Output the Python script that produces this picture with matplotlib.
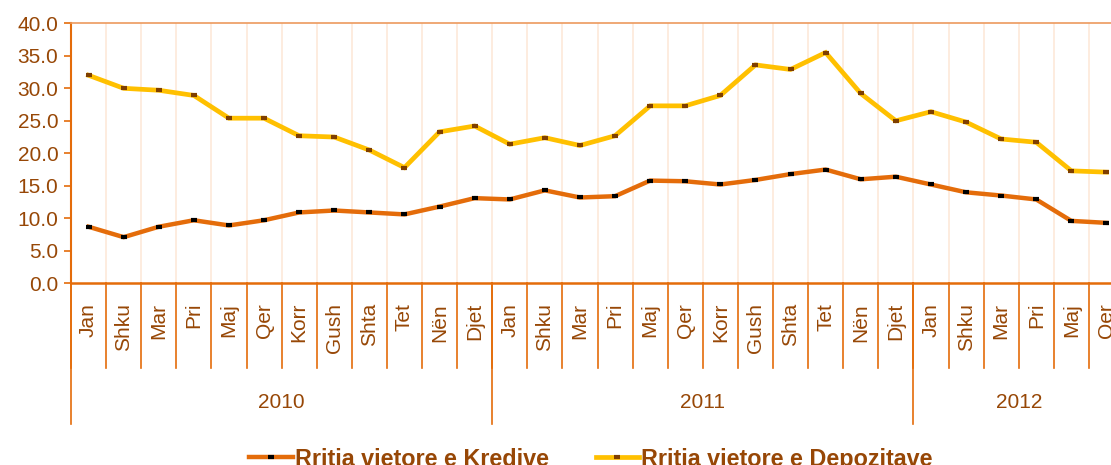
import numpy as np
import matplotlib
matplotlib.use("Agg")
import matplotlib.pyplot as plt
from matplotlib.transforms import blended_transform_factory
from matplotlib.lines import Line2D

plt.rcParams["font.family"] = ["Liberation Sans", "DejaVu Sans"]

# Data
months = ["Jan", "Shku", "Mar", "Pri", "Maj", "Qer", "Korr", "Gush", "Shta", "Tet", "Nën", "Djet"] * 2 + \
         ["Jan", "Shku", "Mar", "Pri", "Maj", "Qer"]
years = ["2010", "2011", "2012"]
year_counts = [12, 12, 6]

kredive = [8.7, 7.1, 8.7, 9.7, 8.9, 9.7, 10.9, 11.2, 10.9, 10.6, 11.8, 13.1,
           12.9, 14.3, 13.2, 13.4, 15.8, 15.7, 15.2, 15.9, 16.8, 17.5, 16.0, 16.4,
           15.2, 14.0, 13.5, 12.9, 9.6, 9.3]
depozitave = [32.0, 30.0, 29.7, 28.9, 25.4, 25.4, 22.7, 22.5, 20.5, 17.8, 23.3, 24.2,
              21.4, 22.4, 21.2, 22.7, 27.3, 27.3, 28.9, 33.6, 32.9, 35.5, 29.2, 25.0,
              26.4, 24.8, 22.2, 21.7, 17.3, 17.1]

ORANGE = "#E46C0A"
YELLOW = "#FFC000"
BROWN = "#974706"
GRID = "#FDE9D9"

W, H = 1111, 465
fig = plt.figure(figsize=(W / 100, H / 100), dpi=100)

def fy(px):
    # pixel row (from top) -> figure fraction
    return 1 - px / H

left, right, top, bottom = 71, 1124, 23.3, 283.3
ax = fig.add_axes([left / W, fy(bottom), (right - left) / W, (bottom - top) / H])

x = np.arange(len(months))
ax.plot(x, kredive, color=ORANGE, lw=3.2, marker="_", ms=5, mew=3, mec="black",
        solid_joinstyle="miter", zorder=3)
ax.plot(x, depozitave, color=YELLOW, lw=3.4, marker="_", ms=5, mew=3, mec="#7F3F00",
        solid_joinstyle="miter", zorder=3)

ax.set_xlim(-0.5, len(months) - 0.5)
ax.set_ylim(0, 40)
ax.set_yticks(np.arange(0, 41, 5))
ax.set_yticklabels([f"{v:.1f}" for v in np.arange(0, 41, 5)])
ax.tick_params(axis="y", colors=ORANGE, labelcolor=BROWN, labelsize=15, length=5, width=1.2, pad=4)
ax.set_xticks([])

for b in np.arange(0.5, len(months) - 0.5, 1):
    ax.axvline(b, color=GRID, lw=1.2, zorder=1)

ax.spines["right"].set_visible(False)
ax.spines["left"].set_color(ORANGE)
ax.spines["left"].set_linewidth(1.5)
ax.spines["bottom"].set_color(ORANGE)
ax.spines["bottom"].set_linewidth(1.8)
ax.spines["top"].set_color("#EC9A5E")
ax.spines["top"].set_linewidth(1.2)

# Multi-level category axis
tr = blended_transform_factory(ax.transData, fig.transFigure)
for i, m in enumerate(months):
    ax.text(i, fy(303), m, rotation=90, ha="center", va="top", fontsize=15,
            color=BROWN, transform=tr, clip_on=False)
for b in np.arange(-0.5, len(months), 1):
    ax.add_line(Line2D([b, b], [fy(bottom), fy(368)], color=ORANGE, lw=1.2,
                       transform=tr, clip_on=False))

start = -0.5
for yr, n in zip(years, year_counts):
    ax.add_line(Line2D([start, start], [fy(bottom), fy(424)], color=ORANGE, lw=1.2,
                       transform=tr, clip_on=False))
    ax.text(start + n / 2, fy(402), yr, ha="center", va="center", fontsize=15,
            color=BROWN, transform=tr, clip_on=False)
    start += n

# Legend
handles = [
    Line2D([], [], color=ORANGE, lw=3.2, marker="_", ms=5, mew=3, mec="black"),
    Line2D([], [], color=YELLOW, lw=3.4, marker="_", ms=5, mew=3, mec="#7F3F00"),
]
leg = fig.legend(handles, ["Rritja vjetore e Kredive", "Rritja vjetore e Depozitave"],
                 loc="center", bbox_to_anchor=(0.532, fy(459)), ncol=2, frameon=False,
                 handlelength=1.85, handletextpad=0.1, columnspacing=2.0,
                 prop={"size": 16.8, "weight": "bold"})
for t in leg.get_texts():
    t.set_color(BROWN)

fig.savefig("out.png", dpi=100)
